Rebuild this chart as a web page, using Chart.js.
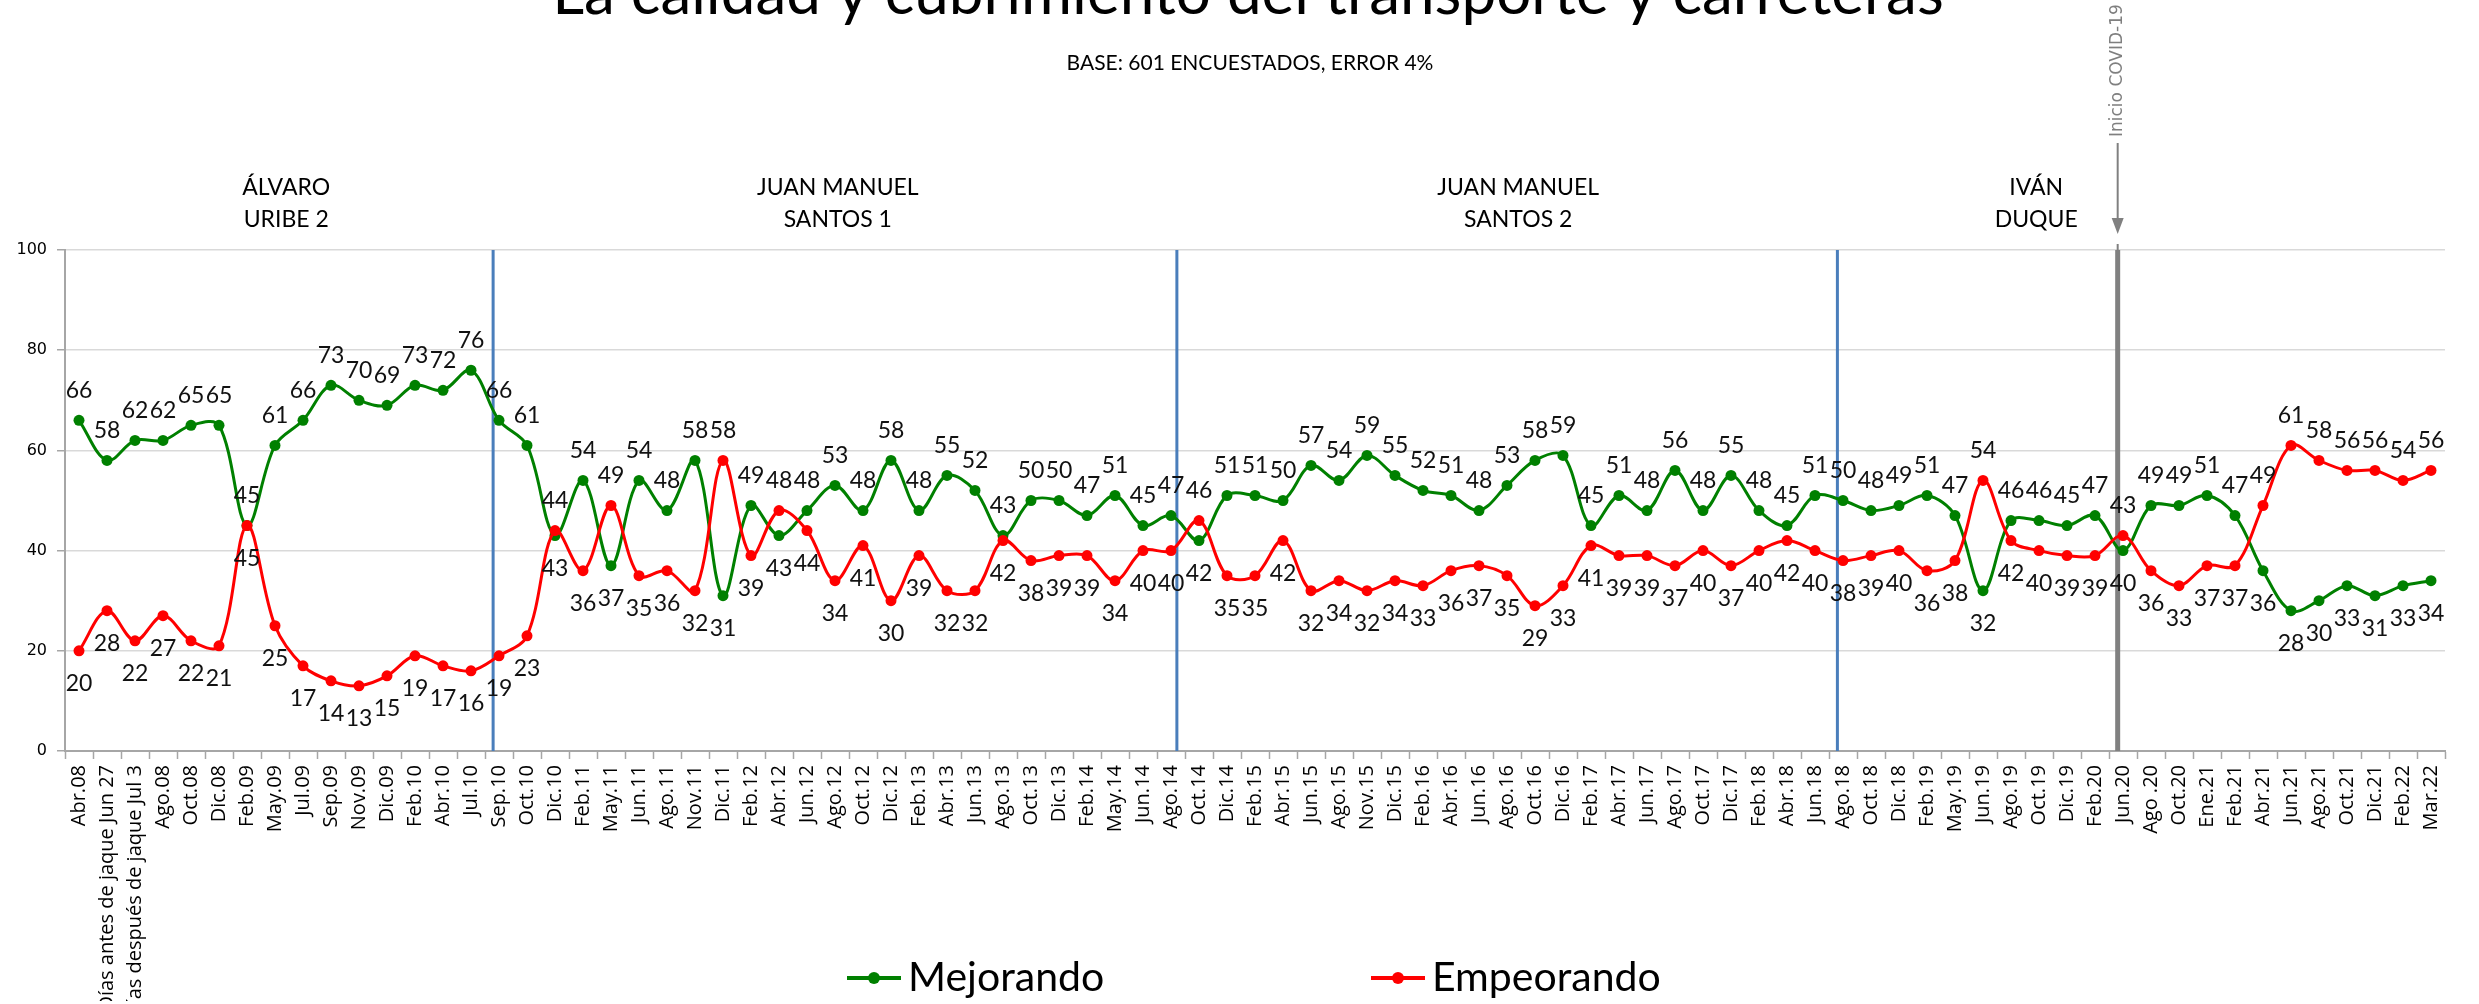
<!DOCTYPE html>
<html>
<head>
<meta charset="utf-8">
<title>La calidad y cubrimiento del transporte y carreteras</title>
<script src="https://cdn.jsdelivr.net/npm/chart.js@4.4.1/dist/chart.umd.min.js"></script>
<style>
    html, body { margin: 0; padding: 0; background: #ffffff; }
    #wrap { width: 2479px; height: 1004px; }
</style>
</head>
<body>
<div id="wrap"><canvas id="transporteChart" width="2479" height="1004"></canvas></div>
<script>
// Textos del gráfico
const tituloTexto = 'La calidad y cubrimiento del transporte y carreteras';
const subtituloTexto = 'BASE: 601 ENCUESTADOS, ERROR 4%';
const covidTexto = 'Inicio COVID-19';

// Categorías (fechas de medición)
const categorias = [
    'Abr.08', 'Días antes de jaque Jun 27', 'Días después de jaque Jul 3', 'Ago.08', 'Oct.08', 'Dic.08',
    'Feb.09', 'May.09', 'Jul.09', 'Sep.09', 'Nov.09', 'Dic.09', 'Feb.10', 'Abr.10', 'Jul.10', 'Sep.10',
    'Oct.10', 'Dic.10', 'Feb.11', 'May.11', 'Jun.11', 'Ago.11', 'Nov.11', 'Dic.11', 'Feb.12', 'Abr.12',
    'Jun.12', 'Ago.12', 'Oct.12', 'Dic.12', 'Feb.13', 'Abr.13', 'Jun.13', 'Ago.13', 'Oct.13', 'Dic.13',
    'Feb.14', 'May.14', 'Jun.14', 'Ago.14', 'Oct.14', 'Dic.14', 'Feb.15', 'Abr.15', 'Jun.15', 'Ago.15',
    'Nov.15', 'Dic.15', 'Feb.16', 'Abr.16', 'Jun.16', 'Ago.16', 'Oct.16', 'Dic.16', 'Feb.17', 'Abr.17',
    'Jun.17', 'Ago.17', 'Oct.17', 'Dic.17', 'Feb.18', 'Abr.18', 'Jun.18', 'Ago.18', 'Oct.18', 'Dic.18',
    'Feb.19', 'May.19', 'Jun.19', 'Ago.19', 'Oct.19', 'Dic.19', 'Feb.20', 'Jun.20', 'Ago .20', 'Oct.20',
    'Ene.21', 'Feb.21', 'Abr.21', 'Jun.21', 'Ago.21', 'Oct.21', 'Dic.21', 'Feb.22', 'Mar.22'
];

// Series
const mejorando = [
    66, 58, 62, 62, 65, 65, 45, 61, 66, 73,
    70, 69, 73, 72, 76, 66, 61, 43, 54, 37,
    54, 48, 58, 31, 49, 43, 48, 53, 48, 58,
    48, 55, 52, 43, 50, 50, 47, 51, 45, 47,
    42, 51, 51, 50, 57, 54, 59, 55, 52, 51,
    48, 53, 58, 59, 45, 51, 48, 56, 48, 55,
    48, 45, 51, 50, 48, 49, 51, 47, 32, 46,
    46, 45, 47, 40, 49, 49, 51, 47, 36, 28,
    30, 33, 31, 33, 34
];
const empeorando = [
    20, 28, 22, 27, 22, 21, 45, 25, 17, 14,
    13, 15, 19, 17, 16, 19, 23, 44, 36, 49,
    35, 36, 32, 58, 39, 48, 44, 34, 41, 30,
    39, 32, 32, 42, 38, 39, 39, 34, 40, 40,
    46, 35, 35, 42, 32, 34, 32, 34, 33, 36,
    37, 35, 29, 33, 41, 39, 39, 37, 40, 37,
    40, 42, 40, 38, 39, 40, 36, 38, 54, 42,
    40, 39, 39, 43, 36, 33, 37, 37, 49, 61,
    58, 56, 56, 54, 56
];

// Eje Y
const yTicks = [0, 20, 40, 60, 80, 100];

// Periodos presidenciales (centro expresado en índice de categoría)
const periodos = [
    { lineas: ['ÁLVARO', 'URIBE 2'], centro: 7.4 },
    { lineas: ['JUAN MANUEL', 'SANTOS 1'], centro: 27.1 },
    { lineas: ['JUAN MANUEL', 'SANTOS 2'], centro: 51.4 },
    { lineas: ['IVÁN', 'DUQUE'], centro: 69.9 }
];
// Cambios de gobierno (categoría + desplazamiento en fracción de categoría)
const cambiosGobierno = [
    { cat: 'Sep.10', shift: -0.21 },
    { cat: 'Ago.14', shift: 0.21 },
    { cat: 'Ago.18', shift: -0.2 }
];
const inicioCovid = { cat: 'Jun.20', shift: -0.19 };

const verde = '#008000';
const rojo = '#FF0000';

// Posición x de una marca vertical según la escala de categorías
function xMarca(scale, marca) {
    const i = categorias.indexOf(marca.cat);
    const paso = scale.getPixelForValue(1) - scale.getPixelForValue(0);
    return scale.getPixelForValue(i) + marca.shift * paso;
}

// Líneas verticales (detrás de las series)
const lineasPlugin = {
    id: 'lineasVerticales',
    beforeDatasetsDraw(chart) {
        const { ctx, chartArea, scales } = chart;
        ctx.save();
        ctx.strokeStyle = '#4A7EBB';
        ctx.lineWidth = 3;
        cambiosGobierno.forEach(m => {
            const x = xMarca(scales.x, m);
            ctx.beginPath();
            ctx.moveTo(x, chartArea.top);
            ctx.lineTo(x, chartArea.bottom);
            ctx.stroke();
        });
        // Línea del COVID
        const xc = xMarca(scales.x, inicioCovid);
        ctx.strokeStyle = '#808080';
        ctx.lineWidth = 5;
        ctx.beginPath();
        ctx.moveTo(xc, chartArea.top);
        ctx.lineTo(xc, chartArea.bottom);
        ctx.stroke();
        ctx.restore();
    }
};

// Etiquetas de valor: la serie mayor arriba, la menor abajo
const etiquetasPlugin = {
    id: 'etiquetasValor',
    afterDatasetsDraw(chart) {
        const ctx = chart.ctx;
        ctx.save();
        ctx.font = '23px Lato';
        ctx.fillStyle = '#111111';
        ctx.textAlign = 'center';
        ctx.textBaseline = 'middle';
        chart.data.datasets.forEach((ds, di) => {
            const otra = chart.data.datasets[1 - di].data;
            const meta = chart.getDatasetMeta(di);
            meta.data.forEach((pt, i) => {
                const v = ds.data[i];
                const arriba = v > otra[i] || (v === otra[i] && ds.label === 'Mejorando');
                ctx.fillText(String(v), pt.x, arriba ? pt.y - 30 : pt.y + 33);
            });
        });
        ctx.restore();
    }
};

// Títulos, periodos, anotación COVID y leyenda
const textosPlugin = {
    id: 'textos',
    afterDraw(chart) {
        const { ctx, chartArea, scales } = chart;
        ctx.save();
        ctx.fillStyle = '#000000';
        ctx.textAlign = 'center';

        ctx.font = '62px Lato';
        ctx.textBaseline = 'alphabetic';
        ctx.fillText(tituloTexto, 1248, 14);

        ctx.font = '21px Lato';
        ctx.textBaseline = 'middle';
        ctx.fillText(subtituloTexto, 1250, 63);

        ctx.font = '23px Lato';
        ctx.textBaseline = 'alphabetic';
        periodos.forEach(p => {
            const x = scales.x.getPixelForValue(p.centro);
            ctx.fillText(p.lineas[0], x, 195);
            ctx.fillText(p.lineas[1], x, 227);
        });

        // Anotación COVID con flecha
        const xc = xMarca(scales.x, inicioCovid);
        ctx.save();
        ctx.translate(xc, 137);
        ctx.rotate(-Math.PI / 2);
        ctx.font = '17px "DejaVu Sans"';
        ctx.fillStyle = '#7F7F7F';
        ctx.textAlign = 'left';
        ctx.textBaseline = 'middle';
        ctx.fillText(covidTexto, 0, 0);
        ctx.restore();
        ctx.strokeStyle = '#808080';
        ctx.lineWidth = 2;
        ctx.beginPath();
        ctx.moveTo(xc, 143);
        ctx.lineTo(xc, 222);
        ctx.stroke();
        ctx.fillStyle = '#808080';
        ctx.beginPath();
        ctx.moveTo(xc - 6, 218);
        ctx.lineTo(xc + 6, 218);
        ctx.lineTo(xc, chartArea.top - 16);
        ctx.closePath();
        ctx.fill();
        ctx.beginPath();
        ctx.moveTo(xc, chartArea.top - 6);
        ctx.lineTo(xc, chartArea.top);
        ctx.stroke();

        // Leyenda
        const items = [
            { ds: chart.data.datasets[0], x: 847 },
            { ds: chart.data.datasets[1], x: 1371 }
        ];
        const yl = 978;
        items.forEach(it => {
            ctx.strokeStyle = it.ds.borderColor;
            ctx.lineWidth = 4;
            ctx.beginPath();
            ctx.moveTo(it.x, yl);
            ctx.lineTo(it.x + 54, yl);
            ctx.stroke();
            ctx.fillStyle = it.ds.borderColor;
            ctx.beginPath();
            ctx.arc(it.x + 27, yl, 6, 0, Math.PI * 2);
            ctx.fill();
            ctx.fillStyle = '#000000';
            ctx.font = '41px Lato';
            ctx.textAlign = 'left';
            ctx.textBaseline = 'middle';
            ctx.fillText(it.ds.label, it.x + 61, yl);
        });
        ctx.restore();
    }
};

const ctx = document.getElementById('transporteChart').getContext('2d');
new Chart(ctx, {
    type: 'line',
    data: {
        labels: categorias,
        datasets: [
            {
                label: 'Mejorando',
                data: mejorando,
                borderColor: verde,
                backgroundColor: verde,
                borderWidth: 3,
                pointRadius: 5.5,
                pointBorderWidth: 0,
                tension: 0.35,
                order: 1
            },
            {
                label: 'Empeorando',
                data: empeorando,
                borderColor: rojo,
                backgroundColor: rojo,
                borderWidth: 3,
                pointRadius: 5.5,
                pointBorderWidth: 0,
                tension: 0.35,
                order: 0
            }
        ]
    },
    options: {
        responsive: false,
        animation: false,
        layout: { padding: { top: 250, left: 10, right: 34, bottom: 3 } },
        plugins: {
            legend: { display: false },
            tooltip: { enabled: false }
        },
        scales: {
            x: {
                offset: true,
                grid: { display: true, drawOnChartArea: false, offset: true, tickLength: 8, tickColor: '#A6A6A6', tickWidth: 1.5 },
                border: { display: true, color: '#A6A6A6', width: 2 },
                ticks: {
                    autoSkip: false, minRotation: 90, maxRotation: 90, padding: 6,
                    color: '#000000', font: { family: "'Open Sans', sans-serif", size: 20 }
                },
                // altura fija: las etiquetas largas se cortan en el borde inferior
                afterFit(scale) { scale.height = 250; }
            },
            y: {
                min: yTicks[0],
                max: yTicks[yTicks.length - 1],
                afterBuildTicks(scale) { scale.ticks = yTicks.map(v => ({ value: v })); },
                ticks: { padding: 10, color: '#000000', font: { family: 'DejaVu Sans', size: 16 } },
                grid: { color: '#D9D9D9', lineWidth: 1.5, tickLength: 8, tickColor: '#A6A6A6' },
                border: { color: '#A6A6A6', width: 2 },
                afterFit(scale) { scale.width = 55; }
            }
        }
    },
    plugins: [lineasPlugin, etiquetasPlugin, textosPlugin]
});
</script>
</body>
</html>
